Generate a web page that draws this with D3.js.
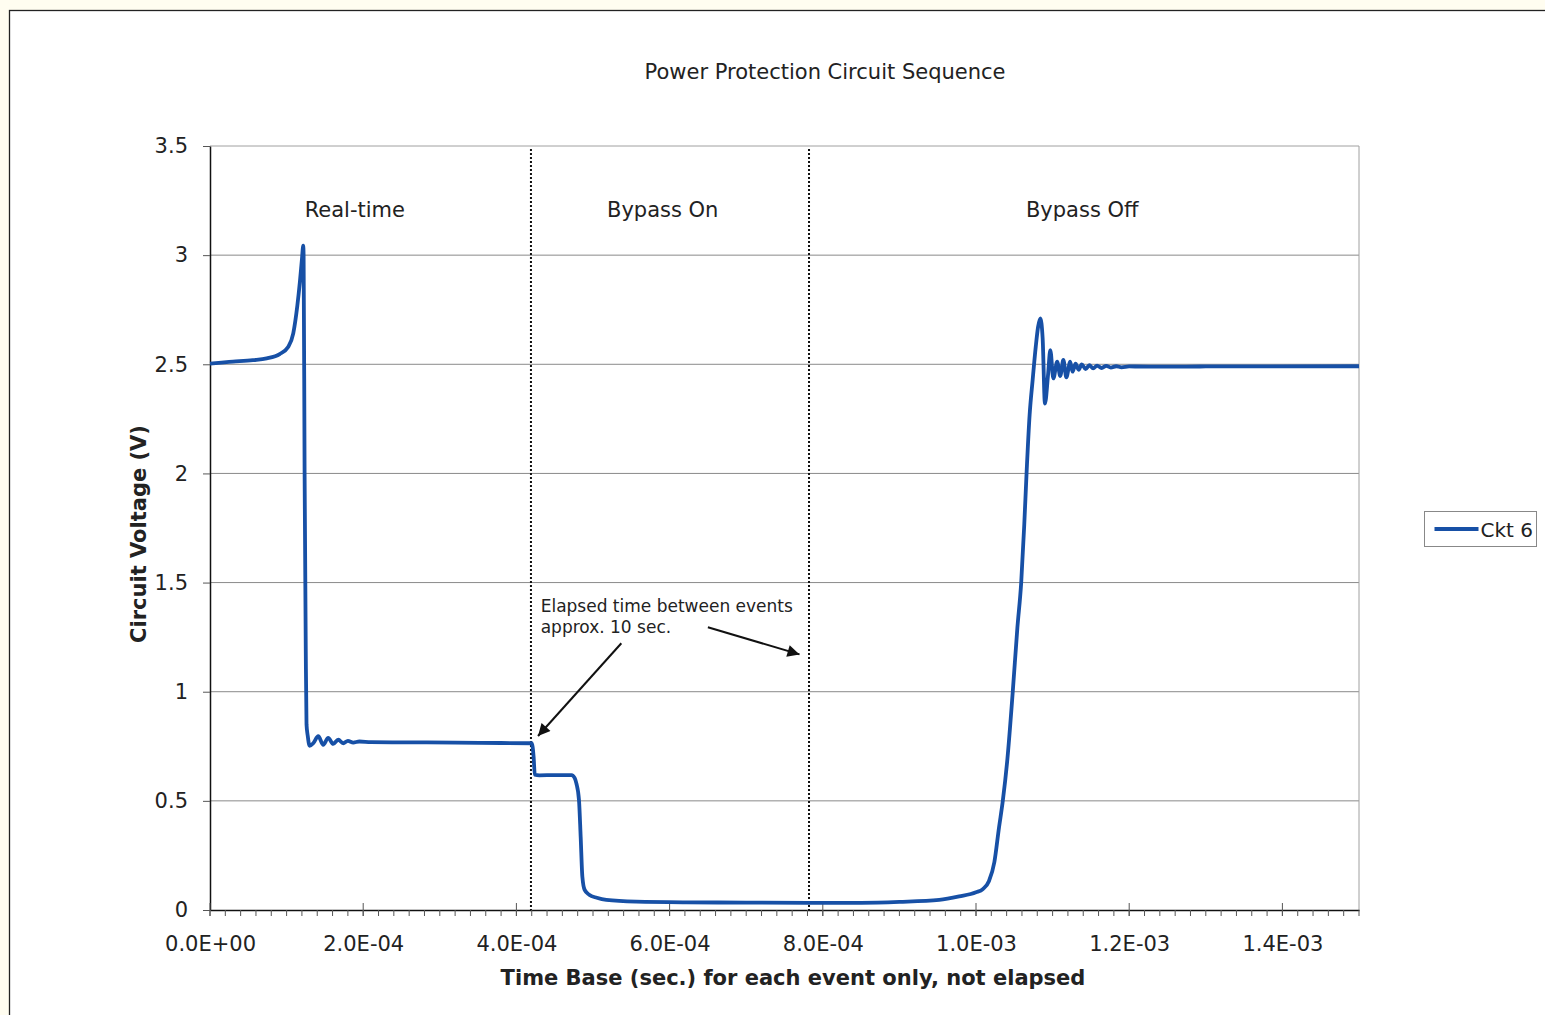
<!DOCTYPE html>
<html>
<head>
<meta charset="utf-8">
<script src="https://cdn.jsdelivr.net/npm/d3@7"></script>
<style>
  body { margin: 0; background: #fffdf0; }
  svg { display: block; }
</style>
</head>
<body>
<svg id="chart"></svg>
<script>
// time base (sec.) and circuit voltage (V)
const timeS = [
  0, 1.5e-5, 3.0e-5, 5.6e-5, 7.4e-5, 9.1e-5, 1.02e-4, 1.087e-4, 1.14e-4, 1.174e-4, 1.2e-4, 1.217e-4,
  1.222e-4, 1.235e-4, 1.25e-4, 1.26e-4, 1.275e-4, 1.30e-4, 1.35e-4, 1.413e-4, 1.478e-4, 1.543e-4,
  1.609e-4, 1.674e-4, 1.739e-4, 1.80e-4, 1.87e-4, 1.95e-4, 2.1e-4, 2.6e-4, 3.2e-4, 3.8e-4, 4.2e-4,
  4.225e-4, 4.24e-4, 4.3e-4, 4.5e-4, 4.72e-4, 4.76e-4, 4.783e-4, 4.817e-4, 4.839e-4, 4.861e-4,
  4.891e-4, 4.95e-4, 5.05e-4, 5.174e-4, 5.565e-4, 6.217e-4, 7.0e-4, 7.804e-4, 8.5e-4, 9.0e-4,
  9.52e-4, 9.78e-4, 1.0e-3, 1.009e-3, 1.017e-3, 1.024e-3, 1.030e-3, 1.035e-3, 1.041e-3, 1.048e-3,
  1.054e-3, 1.059e-3, 1.063e-3, 1.066e-3, 1.070e-3, 1.074e-3, 1.078e-3, 1.081e-3, 1.084e-3, 1.087e-3,
  1.090e-3, 1.094e-3, 1.097e-3, 1.101e-3, 1.106e-3, 1.110e-3, 1.114e-3, 1.118e-3, 1.123e-3, 1.126e-3,
  1.130e-3, 1.134e-3, 1.138e-3, 1.143e-3, 1.148e-3, 1.153e-3, 1.158e-3, 1.164e-3, 1.170e-3, 1.176e-3,
  1.183e-3, 1.190e-3, 1.2e-3, 1.25e-3, 1.3e-3, 1.35e-3, 1.5e-3
];
const ckt6Volts = [
  2.503, 2.508, 2.512, 2.519, 2.527, 2.547, 2.579, 2.642, 2.768, 2.879, 2.98, 3.043,
  3.0, 2.0, 1.2, 0.85, 0.80, 0.752, 0.765, 0.796, 0.757, 0.788,
  0.761, 0.780, 0.764, 0.775, 0.767, 0.772, 0.769, 0.768, 0.767, 0.765, 0.764,
  0.70, 0.62, 0.617, 0.618, 0.618, 0.605, 0.58, 0.504, 0.336, 0.153,
  0.092, 0.07, 0.056, 0.046, 0.038, 0.035, 0.034, 0.033, 0.033, 0.037,
  0.046, 0.062, 0.081, 0.096, 0.133, 0.22, 0.377, 0.5, 0.692, 1.0,
  1.292, 1.5, 1.765, 2.0, 2.268, 2.43, 2.58, 2.67, 2.71, 2.62,
  2.32, 2.45, 2.565, 2.435, 2.512, 2.446, 2.52, 2.44, 2.512, 2.466,
  2.503, 2.475, 2.5, 2.478, 2.496, 2.481, 2.494, 2.483, 2.493, 2.485,
  2.491, 2.486, 2.49, 2.489, 2.49, 2.49, 2.491
];

const yTicks = [0, 0.5, 1, 1.5, 2, 2.5, 3, 3.5];
const xTicks = [0, 2e-4, 4e-4, 6e-4, 8e-4, 1e-3, 1.2e-3, 1.4e-3];
const xTickLabels = ["0.0E+00", "2.0E-04", "4.0E-04", "6.0E-04", "8.0E-04", "1.0E-03", "1.2E-03", "1.4E-03"];

// event boundaries (dotted lines) and the section names above them
const eventTimes = [4.19e-4, 7.82e-4];
const sectionNames = ["Real-time", "Bypass On", "Bypass Off"];
const sectionTimes = [1.89e-4, 5.91e-4, 1.1387e-3];

class LineChart {
  constructor(_config) {
    this.config = {
      parentElement: _config.parentElement,
      containerWidth: _config.containerWidth || 1545,
      containerHeight: _config.containerHeight || 1015,
      margin: { top: 146, bottom: 105, right: 186, left: 210 },
    }
    this.initVis();
  }

  initVis() {
    let vis = this;
    vis.width = vis.config.containerWidth - vis.config.margin.left - vis.config.margin.right;
    vis.height = vis.config.containerHeight - vis.config.margin.top - vis.config.margin.bottom;

    vis.svgRoot = d3.select(vis.config.parentElement)
      .attr('width', vis.config.containerWidth)
      .attr('height', vis.config.containerHeight)
      .style('font-family', '"DejaVu Sans", Verdana, sans-serif');

    // white chart area with the dark frame (runs off the right/bottom edges)
    vis.svgRoot.append('rect')
      .attr('x', 9.5).attr('y', 10.5)
      .attr('width', vis.config.containerWidth)
      .attr('height', vis.config.containerHeight)
      .attr('fill', '#fff')
      .attr('stroke', '#222')
      .attr('stroke-width', 1.3);

    vis.svg = vis.svgRoot.append('g')
      .attr('transform', `translate(${vis.config.margin.left},${vis.config.margin.top})`);

    vis.xScale = d3.scaleLinear().domain([0, 1.5e-3]).range([0, vis.width]);
    vis.yScale = d3.scaleLinear().domain([0, 3.5]).range([vis.height, 0]);

    vis.updateVis();
  }

  updateVis() {
    let vis = this;
    const x = vis.xScale, y = vis.yScale;

    // horizontal gridlines
    vis.svg.selectAll('.grid')
      .data(yTicks.filter(d => d > 0))
      .enter().append('line')
      .attr('x1', 0).attr('x2', vis.width)
      .attr('y1', d => y(d)).attr('y2', d => y(d))
      .attr('stroke', d => d === 3.5 ? '#a0a0a0' : '#8a8a8a')
      .attr('stroke-width', 1);

    // right edge of plot
    vis.svg.append('line')
      .attr('x1', vis.width).attr('x2', vis.width)
      .attr('y1', 0).attr('y2', vis.height)
      .attr('stroke', '#a0a0a0');

    // dotted event markers
    vis.svg.selectAll('.event')
      .data(eventTimes)
      .enter().append('line')
      .attr('x1', d => x(d)).attr('x2', d => x(d))
      .attr('y1', 3).attr('y2', vis.height)
      .attr('stroke', '#111')
      .attr('stroke-width', 2)
      .attr('stroke-dasharray', '2,2');

    // section labels
    vis.svg.selectAll('.section')
      .data(sectionNames)
      .enter().append('text')
      .attr('x', (d, i) => x(sectionTimes[i]))
      .attr('y', y(3.175))
      .attr('text-anchor', 'middle')
      .style('font-size', '21px')
      .style('fill', '#222')
      .text(d => d);

    // y axis
    const yAxis = d3.axisLeft(y)
      .tickValues(yTicks)
      .tickFormat(d => d)
      .tickSize(7)
      .tickSizeOuter(0)
      .tickPadding(15);
    const gy = vis.svg.append('g').call(yAxis);
    gy.select('.domain').attr('stroke', '#111').attr('stroke-width', 1.5);
    gy.selectAll('.tick line').attr('stroke', '#555');
    gy.selectAll('text').style('font-size', '21px').style('fill', '#222')
      .style('font-family', '"DejaVu Sans", Verdana, sans-serif');

    // x axis: labels from the axis, tick marks drawn by hand (major cross, minor out)
    const xAxis = d3.axisBottom(x)
      .tickValues(xTicks)
      .tickFormat((d, i) => xTickLabels[i])
      .tickSize(0)
      .tickSizeOuter(0)
      .tickPadding(26);
    const gx = vis.svg.append('g')
      .attr('transform', `translate(0,${vis.height})`)
      .call(xAxis);
    gx.select('.domain').attr('stroke', '#111').attr('stroke-width', 1.5);
    gx.selectAll('text').style('font-size', '21px').style('fill', '#222')
      .style('font-family', '"DejaVu Sans", Verdana, sans-serif');

    const minorTicks = d3.range(0, 75 + 1).map(i => i * 2e-5);
    gx.selectAll('.minor')
      .data(minorTicks)
      .enter().append('line')
      .attr('x1', d => x(d)).attr('x2', d => x(d))
      .attr('y1', 0).attr('y2', 6)
      .attr('stroke', '#555');
    gx.selectAll('.major')
      .data(xTicks)
      .enter().append('line')
      .attr('x1', d => x(d)).attr('x2', d => x(d))
      .attr('y1', -7).attr('y2', 6)
      .attr('stroke', '#555');

    // the trace
    const series = timeS.map((t, i) => ({ t: t, v: ckt6Volts[i] }));
    const line = d3.line()
      .x(d => x(d.t))
      .y(d => y(d.v))
      .curve(d3.curveMonotoneX);
    vis.svg.append('path')
      .datum(series)
      .attr('fill', 'none')
      .attr('stroke', '#1750a6')
      .attr('stroke-width', 3.8)
      .attr('stroke-linejoin', 'round')
      .attr('d', line);

    // annotation text + arrows
    vis.svgRoot.append('defs').append('marker')
      .attr('id', 'arrow')
      .attr('viewBox', '0 0 10 10')
      .attr('refX', 10).attr('refY', 5)
      .attr('markerWidth', 7).attr('markerHeight', 6)
      .attr('markerUnits', 'strokeWidth')
      .attr('orient', 'auto')
      .append('path')
      .attr('d', 'M0,0 L10,5 L0,10 z')
      .attr('fill', '#111');

    const note = vis.svg.append('text')
      .attr('x', x(4.317e-4))
      .attr('y', y(1.365))
      .style('font-size', '17px')
      .style('fill', '#222');
    note.append('tspan').attr('x', x(4.317e-4)).text('Elapsed time between events');
    note.append('tspan').attr('x', x(4.317e-4)).attr('dy', 21).text('approx. 10 sec.');

    const arrows = [
      { t0: 5.37e-4, v0: 1.222, t1: 4.282e-4, v1: 0.797 },
      { t0: 6.5e-4, v0: 1.295, t1: 7.696e-4, v1: 1.171 }
    ];
    vis.svg.selectAll('.arrow')
      .data(arrows)
      .enter().append('line')
      .attr('x1', d => x(d.t0)).attr('y1', d => y(d.v0))
      .attr('x2', d => x(d.t1)).attr('y2', d => y(d.v1))
      .attr('stroke', '#111')
      .attr('stroke-width', 2)
      .attr('marker-end', 'url(#arrow)');

    // titles
    vis.svgRoot.append('text')
      .attr('x', 825).attr('y', 79)
      .attr('text-anchor', 'middle')
      .style('font-size', '21px')
      .style('fill', '#222')
      .text('Power Protection Circuit Sequence');

    vis.svgRoot.append('text')
      .attr('x', 793).attr('y', 985)
      .attr('text-anchor', 'middle')
      .style('font-size', '21px')
      .style('font-weight', 'bold')
      .style('fill', '#222')
      .text('Time Base (sec.) for each event only, not elapsed');

    vis.svgRoot.append('text')
      .attr('transform', 'translate(146,534) rotate(-90)')
      .attr('text-anchor', 'middle')
      .style('font-size', '21px')
      .style('font-weight', 'bold')
      .style('fill', '#222')
      .text('Circuit Voltage (V)');

    // legend
    const legend = vis.svgRoot.append('g').attr('transform', 'translate(1424.5,511.5)');
    legend.append('rect')
      .attr('width', 112).attr('height', 35)
      .attr('fill', '#fff')
      .attr('stroke', '#888');
    legend.append('line')
      .attr('x1', 10).attr('x2', 54)
      .attr('y1', 17.5).attr('y2', 17.5)
      .attr('stroke', '#1750a6')
      .attr('stroke-width', 4);
    legend.append('text')
      .attr('x', 56).attr('y', 25)
      .style('font-size', '20px')
      .style('fill', '#222')
      .text('Ckt 6');
  }
}

new LineChart({ parentElement: '#chart' });
</script>
</body>
</html>
